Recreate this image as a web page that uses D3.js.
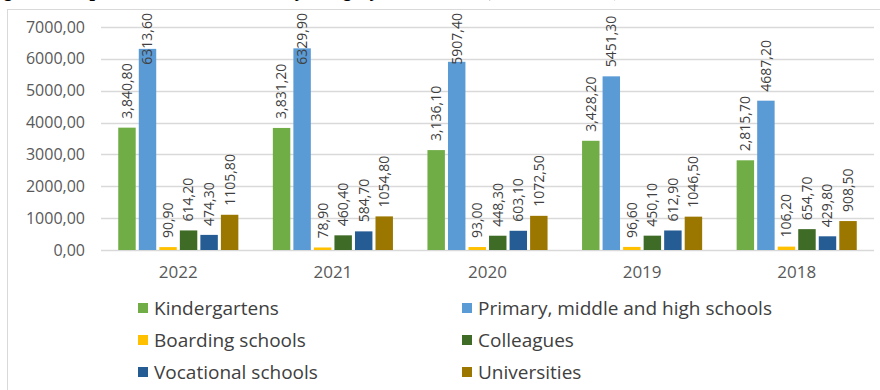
<!DOCTYPE html>
<html>
<head>
<meta charset="utf-8">
<script src="https://cdn.jsdelivr.net/npm/d3@7"></script>
<style>
  html, body { margin: 0; padding: 0; background: #fff; }
  svg { display: block; }
</style>
</head>
<body>
<div id="chart"></div>
<script>
// ---- Data ----
const years = ["2022", "2021", "2020", "2019", "2018"];
const seriesNames = ["Kindergartens", "Primary, middle and high schools", "Boarding schools", "Colleagues", "Vocational schools", "Universities"];
const kindergartens = [3840.8, 3831.2, 3136.1, 3428.2, 2815.7];
const primarySchools = [6313.6, 6329.9, 5907.4, 5451.3, 4687.2];
const boardingSchools = [90.9, 78.9, 93.0, 96.6, 106.2];
const colleagues = [614.2, 460.4, 448.3, 450.1, 654.7];
const vocationalSchools = [474.3, 584.7, 603.1, 612.9, 429.8];
const universities = [1105.8, 1054.8, 1072.5, 1046.5, 908.5];
const yTicks = [0, 1000, 2000, 3000, 4000, 5000, 6000, 7000];
const colors = ["#70AD47", "#5B9BD5", "#FFC000", "#3E6B26", "#245C93", "#9C7700"];
const titleText = "Figure 1. Expenditure on education by category, 2018–2022 (million manats)";

const seriesValues = [kindergartens, primarySchools, boardingSchools, colleagues, vocationalSchools, universities];

// ---- Formats ----
const locGrouped = d3.formatLocale({decimal: ",", thousands: ",", grouping: [3], currency: ["", ""]});
const locPlain = d3.formatLocale({decimal: ",", thousands: "", grouping: [3], currency: ["", ""]});
const fmtGrouped = locGrouped.format(",.2f");
const fmtPlain = locPlain.format(".2f");
const labelFormats = [fmtGrouped, fmtPlain, fmtPlain, fmtPlain, fmtPlain, fmtPlain];

// ---- Layout ----
const W = 880, H = 390;
const plot = {left: 101, right: 874, top: 27, bottom: 250};
const labelTopLimit = 13;

const svg = d3.select("#chart").append("svg").attr("width", W).attr("height", H);
svg.append("rect").attr("width", W).attr("height", H).attr("fill", "#fff");

// Cropped title (only descenders visible, as in the source)
svg.append("text")
  .attr("x", -14).attr("y", -4.5)
  .attr("font-family", "'Liberation Serif', 'Times New Roman', serif")
  .attr("font-weight", "bold").attr("font-style", "italic")
  .attr("font-size", 20).attr("fill", "#000")
  .text(titleText);

// Chart frame
svg.append("rect")
  .attr("x", 7.5).attr("y", 9.5).attr("width", 900).attr("height", 400)
  .attr("fill", "none").attr("stroke", "#D9D9D9").attr("stroke-width", 1);

const x0 = d3.scaleBand().domain(years).range([plot.left, plot.right]).paddingInner(0).paddingOuter(0);
const groupPad = 17.25;
const x1 = d3.scaleBand().domain(d3.range(seriesNames.length))
  .range([groupPad, x0.bandwidth() - groupPad]).paddingInner(0.15).paddingOuter(0);
const y = d3.scaleLinear().domain([0, 7000]).range([plot.bottom, plot.top]);

// Gridlines
svg.append("g").selectAll("line").data(yTicks).join("line")
  .attr("x1", plot.left).attr("x2", plot.right)
  .attr("y1", d => Math.round(y(d)) + 0.5).attr("y2", d => Math.round(y(d)) + 0.5)
  .attr("stroke", "#D9D9D9").attr("stroke-width", 1.3);

// Y axis labels
const yAxis = d3.axisLeft(y).tickValues(yTicks).tickFormat(fmtPlain).tickSize(0).tickPadding(0);
const yG = svg.append("g").attr("transform", `translate(${85},0)`).call(yAxis);
yG.select(".domain").remove();
yG.selectAll("text")
  .attr("font-family", "'Open Sans', sans-serif").attr("font-size", 16)
  .attr("fill", "#595959");

// X axis labels
const xAxis = d3.axisBottom(x0).tickSize(0).tickPadding(0);
const xG = svg.append("g").attr("transform", `translate(0,${plot.bottom})`).call(xAxis);
xG.select(".domain").remove();
xG.selectAll("text")
  .attr("font-family", "'Open Sans', sans-serif").attr("font-size", 17)
  .attr("fill", "#595959").attr("dy", null).attr("y", 28);

// Bars
const groups = svg.append("g").selectAll("g").data(years).join("g")
  .attr("transform", d => `translate(${x0(d)},0)`);

groups.each(function(year, yi) {
  const g = d3.select(this);
  seriesValues.forEach((vals, si) => {
    const v = vals[yi];
    g.append("rect")
      .attr("x", x1(si)).attr("width", x1.bandwidth())
      .attr("y", y(v)).attr("height", y(0) - y(v))
      .attr("fill", colors[si]);
  });
});

// Value labels (rotated), kept inside the chart frame
const labelNodes = [];
groups.each(function(year, yi) {
  const g = d3.select(this);
  seriesValues.forEach((vals, si) => {
    const v = vals[yi];
    const cx = x1(si) + x1.bandwidth() / 2;
    const t = g.append("text")
      .attr("font-family", "'Open Sans', sans-serif").attr("font-size", 14)
      .attr("fill", "#404040")
      .attr("text-anchor", "start")
      .attr("dy", "0.35em")
      .text(labelFormats[si](v));
    labelNodes.push({t, v, cx});
  });
});
function placeLabels() {
  labelNodes.forEach(({t, v, cx}) => {
    const w = t.node().getComputedTextLength();
    let bottom = y(v) - 9;
    if (bottom - w < labelTopLimit) bottom = labelTopLimit + w;
    t.attr("transform", `translate(${cx},${bottom}) rotate(-90)`);
  });
}
placeLabels();
if (document.fonts && document.fonts.ready) document.fonts.ready.then(placeLabels);

// Legend
const legendCols = [138, 462];
const legendRows = [308, 340, 372];
const legend = svg.append("g").selectAll("g").data(seriesNames).join("g")
  .attr("transform", (d, i) => `translate(${legendCols[i % 2]},${legendRows[Math.floor(i / 2)]})`);
legend.append("rect")
  .attr("x", 0).attr("y", -5).attr("width", 10).attr("height", 10)
  .attr("fill", (d, i) => colors[i]);
legend.append("text")
  .attr("x", 16).attr("dy", "0.35em")
  .attr("font-family", "'Open Sans', sans-serif").attr("font-size", 19)
  .attr("fill", "#404040")
  .text(d => d);
</script>
</body>
</html>
